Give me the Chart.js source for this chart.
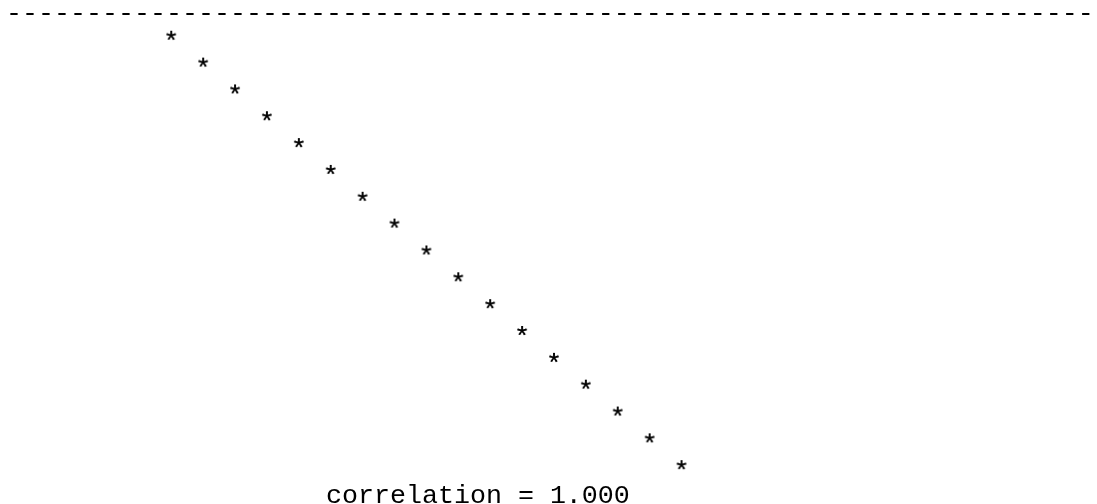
<!DOCTYPE html>
<html lang="en">
<head>
  <meta charset="UTF-8">
  <title>correlation</title>
  <script src="https://cdn.jsdelivr.net/npm/chart.js"></script>
  <style>
    body {
      margin: 0;
      background: white;
    }
    #wrap {
      width: 1097px;
      height: 504px;
    }
  </style>
</head>
<body>

<div id="wrap"><canvas id="chartKorelasi"></canvas></div>

<script>
  // data: 17 points on a straight line
  const xValues = [1, 2, 3, 4, 5, 6, 7, 8, 9, 10, 11, 12, 13, 14, 15, 16, 17];
  const yValues = [1, 2, 3, 4, 5, 6, 7, 8, 9, 10, 11, 12, 13, 14, 15, 16, 17];
  const corrLabel = "correlation = 1.000";
  const dashCount = 68;

  const FONT = "Liberation Mono";
  const SIZE = 26.67;

  // asterisk glyph used as point style
  function makeStar() {
    const c = document.createElement("canvas");
    c.width = 24;
    c.height = 24;
    const g = c.getContext("2d");
    g.font = SIZE + "px '" + FONT + "'";
    g.fillStyle = "#000";
    const m = g.measureText("*");
    const w = m.actualBoundingBoxLeft + m.actualBoundingBoxRight;
    const h = m.actualBoundingBoxAscent + m.actualBoundingBoxDescent;
    const x = 12 - w / 2 + m.actualBoundingBoxLeft;
    const y = 12 - h / 2 + m.actualBoundingBoxAscent;
    g.fillText("*", x, y);
    g.fillText("*", x, y); // second pass, a bit darker like the reference
    return c;
  }

  const points = xValues.map((x, i) => ({ x: x, y: yValues[i] }));

  new Chart(document.getElementById("chartKorelasi"), {
    type: "scatter",
    data: {
      datasets: [{
        data: points,
        pointStyle: makeStar(),
        showLine: false
      }]
    },
    options: {
      responsive: true,
      maintainAspectRatio: false,
      animation: false,
      layout: { padding: { left: 6, right: 0, top: 0, bottom: 0 } },
      plugins: {
        legend: { display: false },
        tooltip: { enabled: false },
        title: {
          display: true,
          text: "-".repeat(dashCount),
          align: "start",
          color: "#000",
          font: { family: FONT, size: SIZE, weight: "normal", lineHeight: 1 },
          padding: { top: 1, bottom: 0 }
        }
      },
      scales: {
        x: {
          type: "linear",
          min: -4.181,
          max: 29.87,
          grid: { display: false, drawTicks: false },
          border: { display: false },
          ticks: { display: false },
          title: {
            display: true,
            align: "start",
            text: " ".repeat(20) + corrLabel,
            color: "#000",
            font: { family: FONT, size: SIZE, lineHeight: 0.6 },
            padding: { top: 0, bottom: 0 }
          }
        },
        y: {
          type: "linear",
          reverse: true,
          min: 0.7,
          max: 17.85,
          display: false
        }
      }
    }
  });
</script>

</body>
</html>
